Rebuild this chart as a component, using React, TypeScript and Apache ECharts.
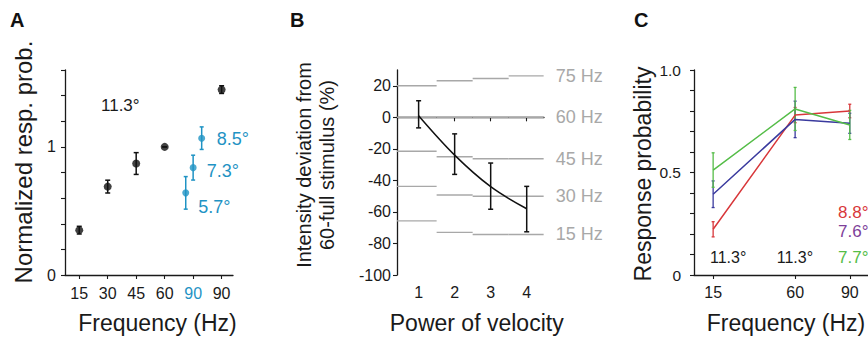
import React, { useEffect, useRef } from "react";
import * as echarts from "echarts";

// ---------- Panel A ----------
const A_tickLabels = ["15", "30", "45", "60", "90", "90"];
const A_tickPos = [1, 2, 3, 4, 5, 6];
const A_blackX = [1, 2, 3, 4, 6];
const A_blackY = [0.35, 0.69, 0.87, 1.0, 1.447];
const A_blackErr = [0.03, 0.05, 0.085, 0, 0.03];
const A_blueX = [4.74, 5.0, 5.3];
const A_blueY = [0.641, 0.838, 1.068];
const A_blueErr = [0.127, 0.097, 0.088];
const A_blueLabels = ["5.7°", "7.3°", "8.5°"];
const A_yTicks = [0, 0.2, 0.4, 0.6, 0.8, 1.0, 1.2, 1.4, 1.6];
const A_yLabels = [0, 1];

// ---------- Panel B ----------
const B_x = [1, 2, 3, 4];
const B_mean = [1, -24, -44, -58];
const B_low = [-6.7, -36.2, -58.3, -72.6];
const B_high = [10.5, -10.5, -29, -43.8];
const B_stepEdges = [0.4, 1.5, 2.5, 3.5, 4.47];
const B_refNames = ["75 Hz", "60 Hz", "45 Hz", "30 Hz", "15 Hz"];
const B_refLevels = [
  [20, 23.2, 24.6, 26.3],
  [0, 0, 0, 0],
  [-21.5, -25, -26.3, -26.3],
  [-43.8, -49.3, -50.1, -50.1],
  [-65.7, -73.0, -74.3, -74.3],
];
const B_yTicks = [-100, -80, -60, -40, -20, 0, 20];

// ---------- Panel C ----------
const C_freq = [15, 60, 90];
const C_red = [0.223, 0.78, 0.8];
const C_redErr = [0.037, 0.037, 0.033];
const C_blue = [0.394, 0.759, 0.74];
const C_blueErr = [0.065, 0.089, 0.049];
const C_green = [0.512, 0.81, 0.732];
const C_greenErr = [0.084, 0.105, 0.071];
const C_yTicks = [0, 0.1, 0.2, 0.3, 0.4, 0.5, 0.6, 0.7, 0.8, 0.9, 1.0];
const C_yLabels = [0, 0.5, 1.0];

const FONT = "Liberation Sans, Arial, sans-serif";
const AXIS_COLOR = "#1a1a1a";
const BLUE_A = "#1f93c4";
const RED = "#d8373a";
const NAVY = "#3a3a9e";
const GREEN = "#55bd48";
const PURPLE = "#7e3f9a";
const GRAY = "#a8a8a8";

function errorBars(
  idx: number,
  data: number[][],
  color: string,
  capW: number,
  lw: number,
  z = 3
) {
  return {
    type: "custom",
    xAxisIndex: idx,
    yAxisIndex: idx,
    z,
    clip: false,
    encode: { x: 0, y: [1, 2] },
    data,
    renderItem: (params: any, api: any) => {
      const x = api.value(0);
      const lo = api.coord([x, api.value(1)]);
      const hi = api.coord([x, api.value(2)]);
      const st = { stroke: color, lineWidth: lw };
      return {
        type: "group",
        children: [
          { type: "line", shape: { x1: lo[0], y1: lo[1], x2: hi[0], y2: hi[1] }, style: st },
          { type: "line", shape: { x1: lo[0] - capW / 2, y1: lo[1], x2: lo[0] + capW / 2, y2: lo[1] }, style: st },
          { type: "line", shape: { x1: hi[0] - capW / 2, y1: hi[1], x2: hi[0] + capW / 2, y2: hi[1] }, style: st },
        ],
      };
    },
  };
}

function refSeries(levels: number[], name: string) {
  const data = levels.map((y, i) => [B_stepEdges[i], B_stepEdges[i + 1], y]);
  const last = data.length - 1;
  return {
    type: "custom",
    xAxisIndex: 1,
    yAxisIndex: 1,
    z: 1,
    clip: false,
    encode: { x: [0, 1], y: 2 },
    data,
    renderItem: (params: any, api: any) => {
      const y = api.value(2);
      const p0 = api.coord([api.value(0), y]);
      const p1 = api.coord([api.value(1), y]);
      const children: any[] = [
        {
          type: "line",
          shape: { x1: p0[0], y1: p0[1], x2: p1[0], y2: p1[1] },
          style: { stroke: GRAY, lineWidth: 1.4 },
        },
      ];
      if (params.dataIndex === last) {
        children.push({
          type: "text",
          x: p1[0] + 12,
          y: p1[1],
          style: {
            text: name,
            fill: GRAY,
            font: `18px ${FONT}`,
            textAlign: "left",
            textVerticalAlign: "middle",
          },
        });
      }
      return { type: "group", children };
    },
  };
}

function baseAxisStyle() {
  return {
    axisLine: { show: true, lineStyle: { color: AXIS_COLOR, width: 1.3 } },
    axisTick: { show: true, length: 4, lineStyle: { color: AXIS_COLOR, width: 1.1 } },
    splitLine: { show: false },
  };
}

function txt(text: string, x: number, y: number, size: number, color: string, opts: any = {}) {
  return {
    type: "text",
    x,
    y,
    rotation: opts.rotation || 0,
    style: {
      text,
      fill: color,
      font: `${opts.bold ? "bold " : ""}${size}px ${FONT}`,
      textAlign: opts.align || "left",
      textVerticalAlign: "middle",
      lineHeight: opts.lineHeight,
    },
  };
}

export default function App() {
  const ref = useRef<HTMLDivElement>(null);
  useEffect(() => {
    if (!ref.current) return;
    const chart = echarts.init(ref.current, null, { renderer: "svg" });
    const tickLabelStyle = { color: "#1a1a1a", fontSize: 16, fontFamily: FONT };

    const option: any = {
      animation: false,
      backgroundColor: "#ffffff",
      grid: [
        { left: 65, top: 70, width: 168, height: 205 },
        { left: 397, top: 70, width: 147, height: 205 },
        { left: 694, top: 70, width: 174, height: 205 },
      ],
      xAxis: [
        {
          type: "value",
          gridIndex: 0,
          min: 0.5,
          max: 6.4,
          ...baseAxisStyle(),
          axisTick: { show: true, length: 4, customValues: A_tickPos, lineStyle: { color: AXIS_COLOR, width: 1.1 } },
          axisLabel: {
            ...tickLabelStyle,
            margin: 10,
            customValues: A_tickPos,
            formatter: (v: number) => {
              const i = A_tickPos.indexOf(v);
              const s = A_tickLabels[i] ?? "";
              return i === 4 ? `{b|${s}}` : s;
            },
            rich: { b: { color: BLUE_A, fontSize: 16, fontFamily: FONT } },
          },
        },
        {
          type: "value",
          gridIndex: 1,
          min: 0.4,
          max: 4.48,
          ...baseAxisStyle(),
          axisTick: { show: true, length: 4, customValues: B_x, lineStyle: { color: AXIS_COLOR, width: 1.1 } },
          axisLabel: { ...tickLabelStyle, margin: 9, customValues: B_x },
        },
        {
          type: "value",
          gridIndex: 2,
          min: 4.5,
          max: 100,
          ...baseAxisStyle(),
          axisTick: { show: true, length: 4, customValues: C_freq, lineStyle: { color: AXIS_COLOR, width: 1.1 } },
          axisLabel: { ...tickLabelStyle, margin: 9, customValues: C_freq },
        },
      ],
      yAxis: [
        {
          type: "value",
          gridIndex: 0,
          min: 0,
          max: 1.6,
          ...baseAxisStyle(),
          axisTick: { show: true, length: 4, customValues: A_yTicks, lineStyle: { color: AXIS_COLOR, width: 1.1 } },
          axisLabel: { ...tickLabelStyle, margin: 9, customValues: A_yLabels },
        },
        {
          type: "value",
          gridIndex: 1,
          min: -100,
          max: 30,
          ...baseAxisStyle(),
          axisTick: { show: true, length: 4, customValues: B_yTicks, lineStyle: { color: AXIS_COLOR, width: 1.1 } },
          axisLabel: { ...tickLabelStyle, margin: 6, customValues: B_yTicks },
        },
        {
          type: "value",
          gridIndex: 2,
          min: 0,
          max: 1,
          ...baseAxisStyle(),
          axisTick: { show: true, length: 4, customValues: C_yTicks, lineStyle: { color: AXIS_COLOR, width: 1.1 } },
          axisLabel: {
            ...tickLabelStyle,
            fontSize: 15.5,
            margin: 13,
            customValues: C_yLabels,
            formatter: (v: number) => (v === 1 ? "1.0" : String(v)),
          },
        },
      ],
      series: [
        // Panel A
        errorBars(0, A_blackX.map((x, i) => [x, A_blackY[i] - A_blackErr[i], A_blackY[i] + A_blackErr[i]]), "#111", 5, 1.5),
        errorBars(0, A_blueX.map((x, i) => [x, A_blueY[i] - A_blueErr[i], A_blueY[i] + A_blueErr[i]]), BLUE_A, 4, 1.5),
        {
          type: "scatter",
          xAxisIndex: 0,
          yAxisIndex: 0,
          symbolSize: 8,
          itemStyle: { color: "#111" },
          z: 4,
          data: A_blackX.map((x, i) => [x, A_blackY[i]]),
        },
        {
          type: "scatter",
          xAxisIndex: 0,
          yAxisIndex: 0,
          symbolSize: 7,
          itemStyle: { color: BLUE_A },
          z: 4,
          data: A_blueX.map((x, i) => [x, A_blueY[i]]),
        },
        // Panel B
        ...B_refLevels.map((lv, i) => refSeries(lv, B_refNames[i])),
        errorBars(1, B_x.map((x, i) => [x, B_low[i], B_high[i]]), "#111", 5, 1.5, 3),
        {
          type: "line",
          xAxisIndex: 1,
          yAxisIndex: 1,
          smooth: 0.35,
          showSymbol: false,
          symbol: "none",
          z: 3,
          lineStyle: { color: "#111", width: 1.5 },
          data: B_x.map((x, i) => [x, B_mean[i]]),
        },
        // Panel C
        ...[
          [C_red, C_redErr, RED],
          [C_blue, C_blueErr, NAVY],
          [C_green, C_greenErr, GREEN],
        ].flatMap(([vals, errs, col]: any) => [
          errorBars(2, C_freq.map((f, i) => [f, vals[i] - errs[i], vals[i] + errs[i]]), col, 3, 1.3, 2),
          {
            type: "line",
            xAxisIndex: 2,
            yAxisIndex: 2,
            showSymbol: false,
            symbol: "none",
            z: 3,
            lineStyle: { color: col, width: 1.5 },
            data: C_freq.map((f, i) => [f, vals[i]]),
          },
        ]),
      ],
      graphic: [
        // panel letters
        txt("A", 10, 20, 20, "#111", { bold: true }),
        txt("B", 290, 20, 20, "#111", { bold: true }),
        txt("C", 634, 20, 20, "#111", { bold: true }),
        // axis titles
        txt("Normalized resp. prob.", 23, 162, 24, "#1a1a1a", { rotation: Math.PI / 2, align: "center" }),
        txt("Frequency (Hz)", 157.5, 323, 23, "#1a1a1a", { align: "center" }),
        txt("Intensity deviation from\n60-full stimulus (%)", 315, 165, 20, "#1a1a1a", {
          rotation: Math.PI / 2,
          align: "center",
          lineHeight: 23,
        }),
        txt("Power of velocity", 476.7, 323, 23, "#1a1a1a", { align: "center" }),
        txt("Response probability", 643, 174, 23, "#1a1a1a", { rotation: Math.PI / 2, align: "center" }),
        txt("Frequency (Hz)", 786, 323, 23, "#1a1a1a", { align: "center" }),
        // annotations A
        txt("11.3°", 101, 105, 17, "#1a1a1a"),
        txt(A_blueLabels[2], 216.7, 139, 18, BLUE_A),
        txt(A_blueLabels[1], 206.7, 171, 18, BLUE_A),
        txt(A_blueLabels[0], 198.3, 207, 18, BLUE_A),
        // annotations C
        txt("11.3°", 710, 257, 16, "#1a1a1a"),
        txt("11.3°", 776.7, 257, 16, "#1a1a1a"),
        txt("8.8°", 838, 212, 17, RED),
        txt("7.6°", 838, 231, 17, PURPLE),
        txt("7.7°", 838, 257, 17, GREEN),
      ],
    };
    chart.setOption(option);
    return () => chart.dispose();
  }, []);
  return (
    <div
      ref={ref}
      style={{ position: "fixed", left: 0, top: 0, width: 868, height: 339, background: "#fff" }}
    />
  );
}
